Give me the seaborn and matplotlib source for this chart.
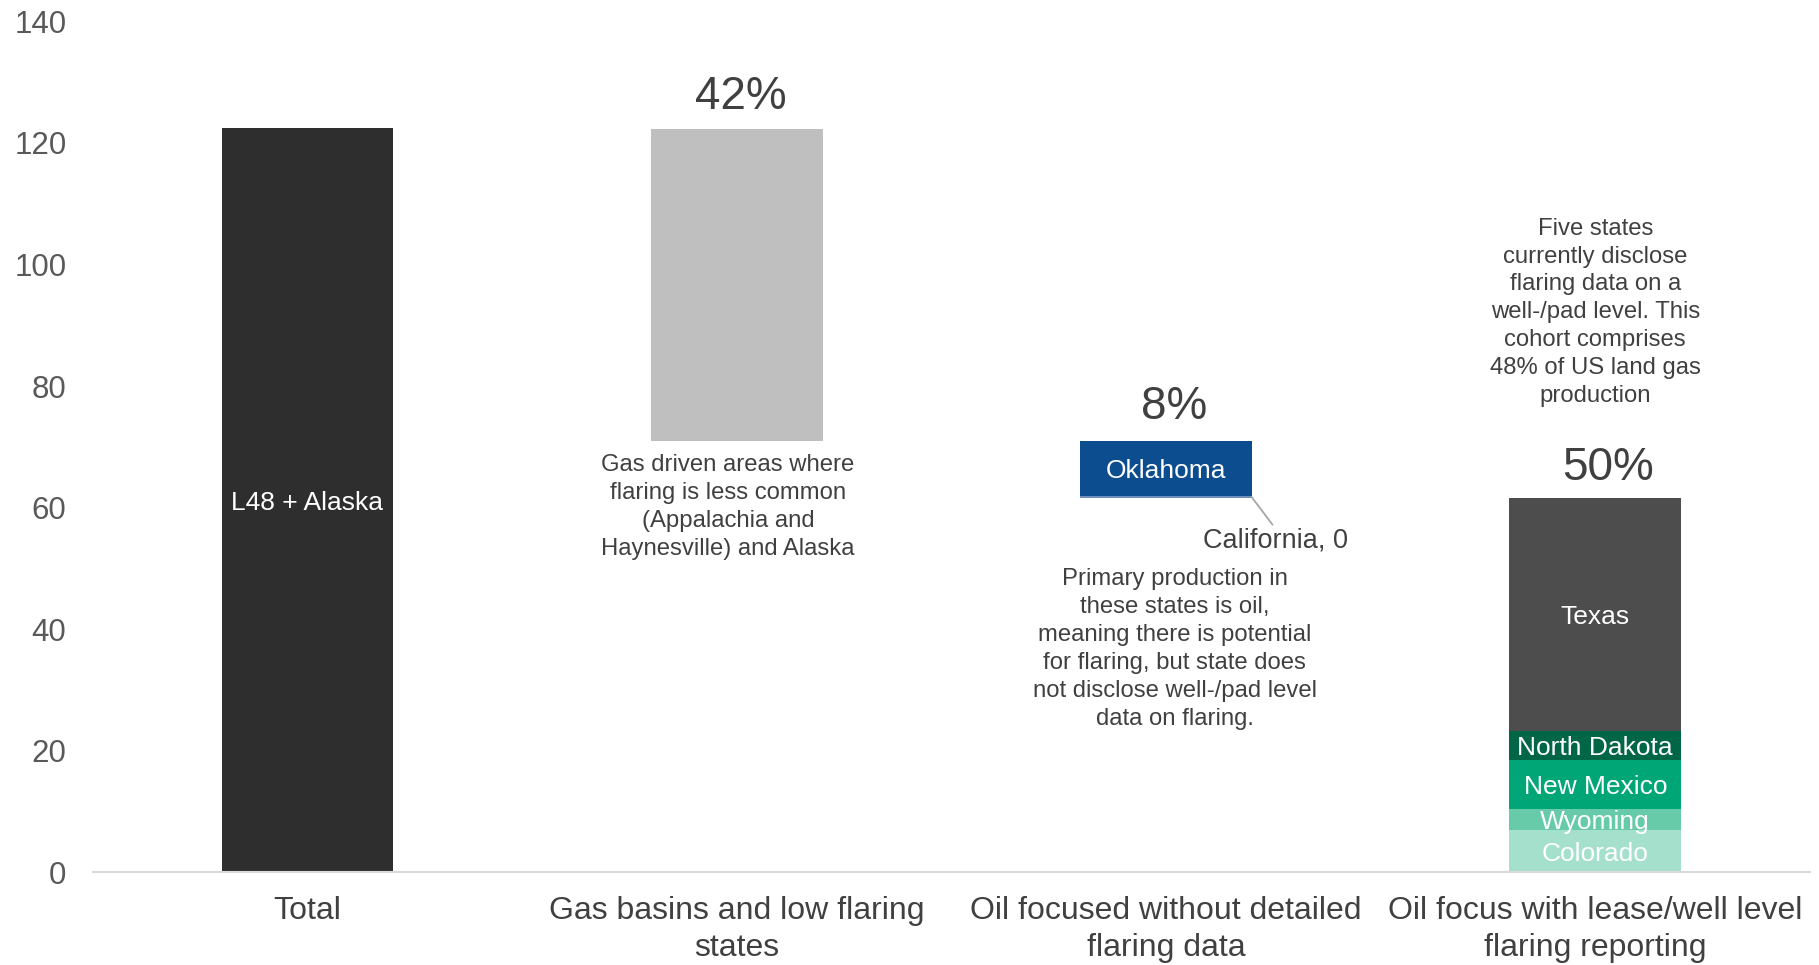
import matplotlib
matplotlib.use("Agg")
import matplotlib.pyplot as plt
import seaborn as sns
import numpy as np

# category labels on the x axis
categories = [
    "Total",
    "Gas basins and low flaring\nstates",
    "Oil focused without detailed\nflaring data",
    "Oil focus with lease/well level\nflaring reporting",
]

# segments of the waterfall
total_name = "L48 + Alaska"
total_value = 122.4

gas_value = 51.2

oil_states = ["California", "Oklahoma"]
oil_values = [0.4, 9.1]

report_states = ["Colorado", "Wyoming", "New Mexico", "North Dakota", "Texas"]
report_values = [6.9, 3.6, 8.0, 4.8, 38.2]

gas_note = ("Gas driven areas where\nflaring is less common\n"
            "(Appalachia and\nHaynesville) and Alaska")
oil_note = ("Primary production in\nthese states is oil,\nmeaning there is potential\n"
            "for flaring, but state does\nnot disclose well-/pad level\ndata on flaring.")
report_note = ("Five states\ncurrently disclose\nflaring data on a\nwell-/pad level. This\n"
               "cohort comprises\n48% of US land gas\nproduction")

colors = {
    "L48 + Alaska": "#2e2e2e",
    "Gas": "#bfbfbf",
    "California": "#6f8fbf",
    "Oklahoma": "#0b4d8f",
    "Colorado": "#a5e0cd",
    "Wyoming": "#67caa9",
    "New Mexico": "#00a676",
    "North Dakota": "#006646",
    "Texas": "#4d4d4d",
}

sns.set_style("white")
plt.rcParams["font.family"] = ["Liberation Sans", "DejaVu Sans"]
text_dark = "#404040"
text_mid = "#595959"

fig = plt.figure(figsize=(18.19, 9.65), dpi=100)
ax = fig.add_axes([0.051, 0.096, 0.944, 0.882])


def draw(cat, value, bottom, color):
    sns.barplot(x=[categories[cat]], y=[value], order=categories, bottom=bottom,
                color=color, saturation=1, width=0.4, linewidth=0, ax=ax)


# build the waterfall: last bar from zero, then stack upward
segments = []  # (cat, name, value, bottom)
b = 0.0
for name, v in zip(report_states, report_values):
    segments.append((3, name, v, b))
    b += v
report_total = b
for name, v in zip(oil_states, oil_values):
    segments.append((2, name, v, b))
    b += v
oil_total = b - report_total
segments.append((1, "Gas", gas_value, b))
b += gas_value
segments.append((0, total_name, total_value, 0.0))

for cat, name, v, bot in segments:
    draw(cat, v, bot, colors[name])

# labels inside the segments
for cat, name, v, bot in segments:
    if name in ("Gas", "California"):
        continue
    ax.text(cat, bot + v / 2, name, ha="center", va="center_baseline",
            color="white", fontsize=19)

# California leader label
cal = [s for s in segments if s[1] == "California"][0]
ax.annotate("California, 0", xy=(2.2, cal[3] + cal[2] / 2), xytext=(2.254, 55.0),
            ha="center", va="center_baseline", fontsize=19.5, color=text_dark,
            arrowprops=dict(arrowstyle="-", color="#a6a6a6", lw=1.3,
                            shrinkA=0, shrinkB=0, relpos=(0.5, 1.0)))

# percentage labels
shares = [gas_value / total_value, oil_total / total_value, report_total / total_value]
pct_y = [127.6, 76.5, 66.5]
pct_x = [1.01, 2.02, 3.03]
for x, y, s in zip(pct_x, pct_y, shares):
    ax.text(x, y, f"{s * 100:.0f}%", ha="center", va="center",
            fontsize=33, color=text_dark)

# notes
note_kw = dict(ha="center", va="center", fontsize=17.2, color=text_dark, linespacing=1.35)
ax.text(0.98, 60.1, gas_note, **note_kw)
ax.text(2.02, 36.8, oil_note, **note_kw)
ax.text(3.0, 92.1, report_note, **note_kw)

ax.set_xlim(-0.5, 3.5)
ax.set_ylim(0, 140)
ax.set_yticks(np.arange(0, 141, 20))
ax.set_xlabel("")
ax.set_ylabel("")
ax.tick_params(axis="y", length=0, pad=19, labelsize=22.5, labelcolor=text_mid)
ax.tick_params(axis="x", length=0, pad=17, labelsize=23, labelcolor=text_dark)
for lab in ax.get_xticklabels():
    lab.set_linespacing(1.3)
sns.despine(ax=ax, left=True)
ax.spines["bottom"].set_color("#d9d9d9")
ax.spines["bottom"].set_linewidth(1.5)

fig.savefig("out.png", dpi=100)
